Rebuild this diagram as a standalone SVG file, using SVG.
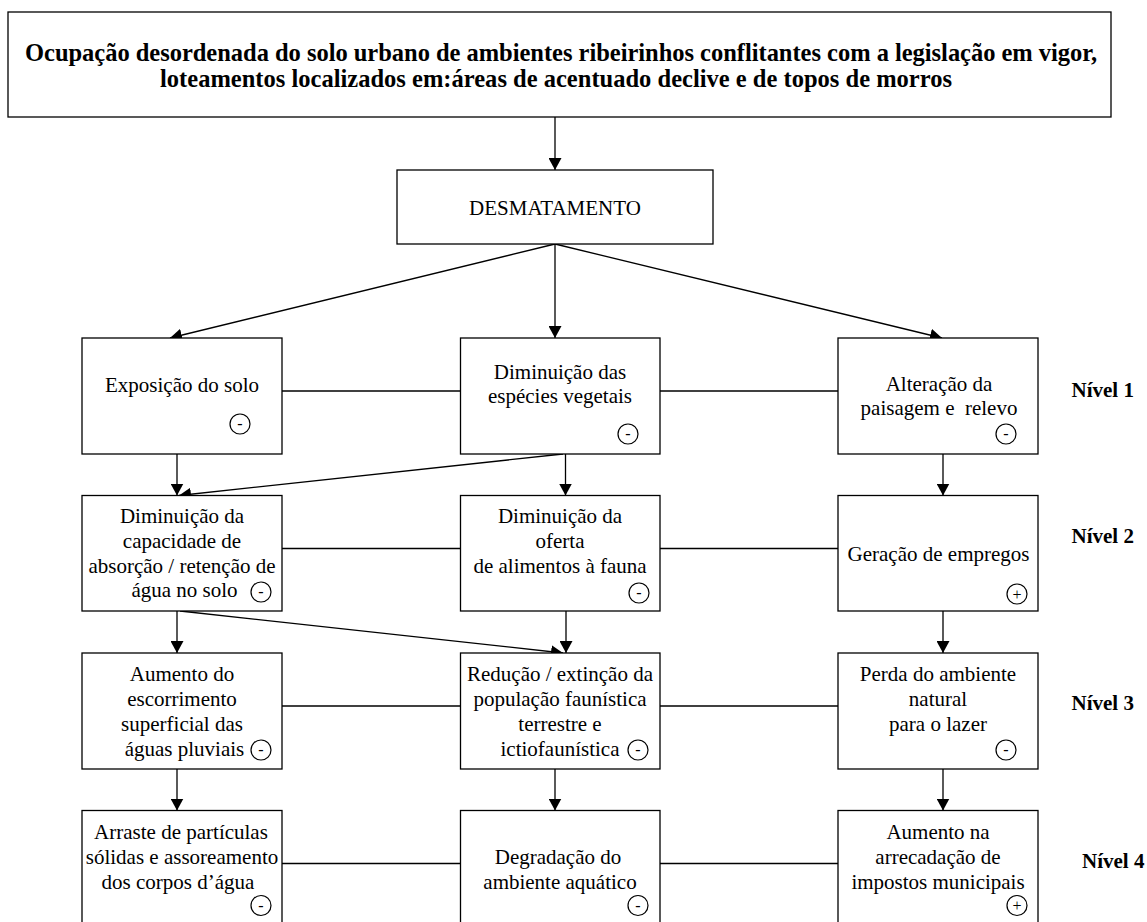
<svg xmlns="http://www.w3.org/2000/svg" width="1147" height="922" viewBox="0 0 1147 922">
<style>
  .box { fill: #fff; stroke: #000; stroke-width: 1.3; }
  .t { font-family: "Liberation Serif", "Times New Roman", serif; font-size: 21px; fill: #000; text-anchor: middle; }
  .b { font-family: "Liberation Serif", "Times New Roman", serif; font-size: 21px; font-weight: bold; fill: #000; }
  .h { font-family: "Liberation Serif", "Times New Roman", serif; font-size: 24.5px; font-weight: bold; fill: #000; text-anchor: middle; }
  .sg { fill: none; stroke: #000; stroke-width: 1.2; }
  .st { font-family: "Liberation Serif", "Times New Roman", serif; font-size: 16px; fill: #000; text-anchor: middle; }
  .ln { stroke: #000; stroke-width: 1.3; fill: none; }
  .ar { stroke: #000; stroke-width: 1.3; fill: none; marker-end: url(#ah); }
</style>
<defs>
  <marker id="ah" markerUnits="userSpaceOnUse" markerWidth="13" markerHeight="13" refX="12" refY="6.5" orient="auto">
    <path d="M0,0 L12,6.5 L0,13 z" fill="#000"/>
  </marker>
</defs>
<rect width="1147" height="922" fill="#fff"/>

<g id="connectors">
  <line class="ar" x1="555" y1="117" x2="555" y2="170"/>
  <line class="ar" x1="555" y1="244" x2="170" y2="338"/>
  <line class="ar" x1="555" y1="244" x2="555" y2="338"/>
  <line class="ar" x1="555" y1="244" x2="942" y2="338"/>
  <line class="ln" x1="282" y1="391" x2="460.5" y2="391"/>
  <line class="ln" x1="660" y1="391" x2="838" y2="391"/>
  <line class="ar" x1="177" y1="454" x2="177" y2="495.5"/>
  <line class="ar" x1="565.5" y1="454" x2="565.5" y2="495.5"/>
  <line class="ar" x1="563" y1="454" x2="179" y2="495.5"/>
  <line class="ar" x1="943" y1="454" x2="943" y2="495.5"/>
  <line class="ln" x1="282" y1="548.5" x2="460.5" y2="548.5"/>
  <line class="ln" x1="660" y1="548.5" x2="838" y2="548.5"/>
  <line class="ar" x1="177" y1="611" x2="177" y2="653"/>
  <line class="ar" x1="566" y1="611" x2="566" y2="653"/>
  <line class="ar" x1="180" y1="611" x2="563" y2="653"/>
  <line class="ar" x1="943" y1="611" x2="943" y2="653"/>
  <line class="ln" x1="282" y1="706" x2="460.5" y2="706"/>
  <line class="ln" x1="660" y1="706" x2="838" y2="706"/>
  <line class="ar" x1="177" y1="769" x2="177" y2="810.5"/>
  <line class="ar" x1="555" y1="769" x2="555" y2="810.5"/>
  <line class="ar" x1="943" y1="769" x2="943" y2="810.5"/>
  <line class="ln" x1="282" y1="863.5" x2="460.5" y2="863.5"/>
  <line class="ln" x1="660" y1="863.5" x2="838" y2="863.5"/>
</g>

<g id="n-top">
  <rect class="box" x="8" y="12" width="1103" height="105"/>
  <text class="h" x="561" y="60.5" textLength="1072" lengthAdjust="spacing">Ocupação desordenada do solo urbano de ambientes ribeirinhos conflitantes com a legislação em vigor,</text>
  <text class="h" x="556" y="86.5" textLength="792" lengthAdjust="spacing">loteamentos localizados em:áreas de acentuado declive e de topos de morros</text>
</g>

<g id="n-desmatamento">
  <rect class="box" x="397" y="170" width="316" height="74"/>
  <text class="t" x="555" y="215">DESMATAMENTO</text>
</g>

<g id="n-exposicao">
  <rect class="box" x="82" y="338" width="200" height="116"/>
  <text class="t" x="182" y="391.5">Exposição do solo</text>
  <circle class="sg" cx="240" cy="424" r="10"/><text class="st" x="240" y="429">-</text>
</g>

<g id="n-especies">
  <rect class="box" x="460.5" y="338" width="199.5" height="116"/>
  <text class="t" x="560" y="379">Diminuição das</text>
  <text class="t" x="560" y="403">espécies vegetais</text>
  <circle class="sg" cx="628" cy="434" r="10"/><text class="st" x="628" y="439">-</text>
</g>

<g id="n-paisagem">
  <rect class="box" x="838" y="338" width="200" height="116"/>
  <text class="t" x="939" y="391" xml:space="preserve">Alteração da</text>
  <text class="t" x="939" y="415" xml:space="preserve">paisagem e  relevo</text>
  <circle class="sg" cx="1006" cy="434" r="10"/><text class="st" x="1006" y="439">-</text>
</g>

<g id="n-absorcao">
  <rect class="box" x="82" y="495.5" width="200" height="115.5"/>
  <text class="t" x="182" y="522.5">Diminuição da</text>
  <text class="t" x="182" y="547.5">capacidade de</text>
  <text class="t" x="182" y="572.5">absorção / retenção de</text>
  <text class="t" x="184.5" y="597">água no solo</text>
  <circle class="sg" cx="261" cy="592" r="10"/><text class="st" x="261" y="597">-</text>
</g>

<g id="n-oferta">
  <rect class="box" x="460.5" y="495.5" width="199.5" height="115.5"/>
  <text class="t" x="560" y="523">Diminuição da</text>
  <text class="t" x="560" y="548">oferta</text>
  <text class="t" x="560" y="573">de alimentos à fauna</text>
  <circle class="sg" cx="639" cy="593" r="10"/><text class="st" x="639" y="598">-</text>
</g>

<g id="n-empregos">
  <rect class="box" x="838" y="495.5" width="200" height="115.5"/>
  <text class="t" x="938.5" y="560.5">Geração de empregos</text>
  <circle class="sg" cx="1017" cy="594" r="10"/><text class="st" x="1017" y="599.5">+</text>
</g>

<g id="n-escorrimento">
  <rect class="box" x="82" y="653" width="200" height="116"/>
  <text class="t" x="182" y="681">Aumento do</text>
  <text class="t" x="182" y="706">escorrimento</text>
  <text class="t" x="182" y="731">superficial das</text>
  <text class="t" x="184.5" y="756">águas pluviais</text>
  <circle class="sg" cx="261" cy="750" r="10"/><text class="st" x="261" y="755">-</text>
</g>

<g id="n-fauna">
  <rect class="box" x="460.5" y="653" width="199.5" height="116"/>
  <text class="t" x="560" y="681">Redução / extinção da</text>
  <text class="t" x="560" y="706">população faunística</text>
  <text class="t" x="560" y="731">terrestre e</text>
  <text class="t" x="560" y="756">ictiofaunística</text>
  <circle class="sg" cx="638" cy="750" r="10"/><text class="st" x="638" y="755">-</text>
</g>

<g id="n-lazer">
  <rect class="box" x="838" y="653" width="200" height="116"/>
  <text class="t" x="938" y="681">Perda do ambiente</text>
  <text class="t" x="938" y="706">natural</text>
  <text class="t" x="938" y="731">para o lazer</text>
  <circle class="sg" cx="1006" cy="750" r="10"/><text class="st" x="1006" y="755">-</text>
</g>

<g id="n-arraste">
  <rect class="box" x="82" y="810.5" width="200" height="116"/>
  <text class="t" x="181" y="839">Arraste de partículas</text>
  <text class="t" x="182" y="864">sólidas e assoreamento</text>
  <text class="t" x="178" y="888.5">dos corpos d’água</text>
  <circle class="sg" cx="261" cy="905.5" r="10"/><text class="st" x="261" y="910.5">-</text>
</g>

<g id="n-aquatico">
  <rect class="box" x="460.5" y="810.5" width="199.5" height="116"/>
  <text class="t" x="558" y="863.5">Degradação do</text>
  <text class="t" x="560" y="888.5">ambiente aquático</text>
  <circle class="sg" cx="638" cy="905.5" r="10"/><text class="st" x="638" y="910.5">-</text>
</g>

<g id="n-impostos">
  <rect class="box" x="838" y="810.5" width="200" height="116"/>
  <text class="t" x="938" y="839">Aumento na</text>
  <text class="t" x="938" y="864">arrecadação de</text>
  <text class="t" x="938" y="888.5">impostos municipais</text>
  <circle class="sg" cx="1017" cy="905.5" r="10"/><text class="st" x="1017" y="911">+</text>
</g>

<g id="niveis">
  <text class="b" x="1071.5" y="396.5">Nível 1</text>
  <text class="b" x="1071.5" y="542.5">Nível 2</text>
  <text class="b" x="1071.5" y="710">Nível 3</text>
  <text class="b" x="1082" y="868">Nível 4</text>
</g>
</svg>
